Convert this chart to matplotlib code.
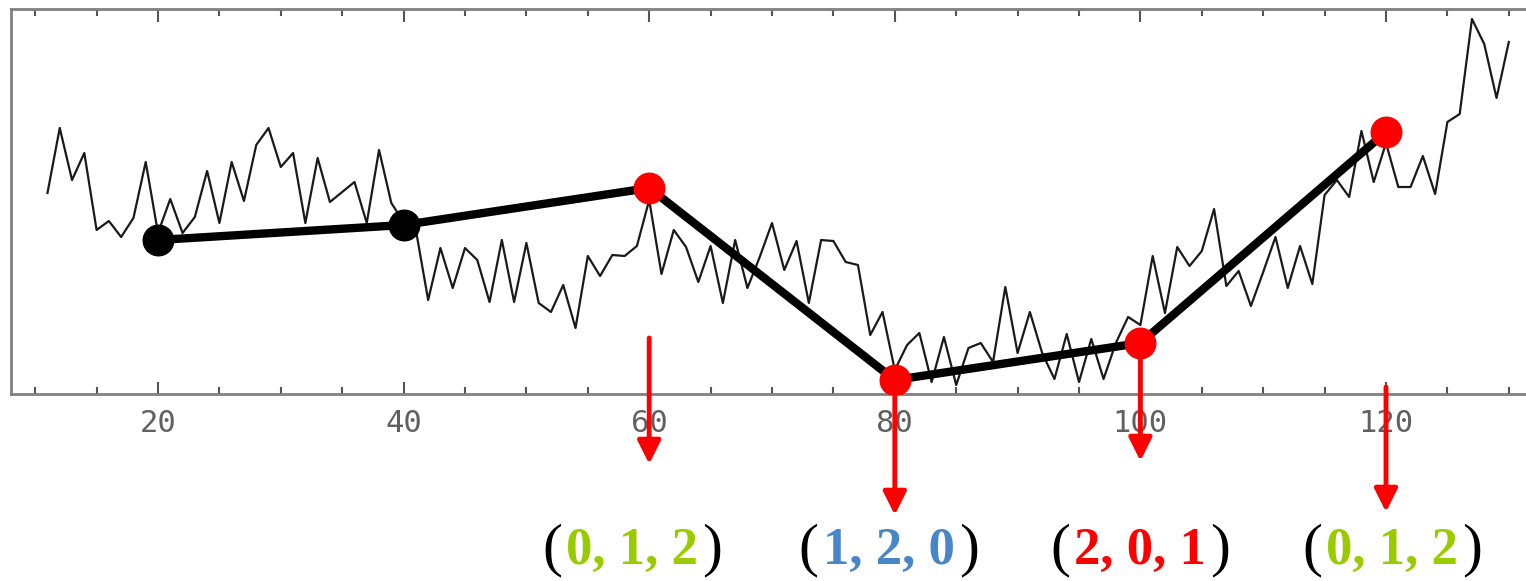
import matplotlib
matplotlib.use("Agg")
import matplotlib.pyplot as plt
from matplotlib.ticker import MultipleLocator
from matplotlib.transforms import ScaledTranslation

# noisy series, x = 11 .. 130
xs = list(range(11, 131))
ys = [201, 266, 214, 241, 164, 173, 157, 176, 232, 161,
      195, 161, 177, 223, 171, 232, 193, 249, 266, 227,
      241, 171, 236, 192, 202, 212, 171, 244, 191, 172,
      164, 94, 146, 106, 146, 134, 92, 154, 92, 151,
      91, 82, 109, 66, 138, 118, 139, 138, 148, 194,
      120, 164, 147, 112, 148, 91, 154, 106, 137, 171,
      124, 153, 91, 154, 153, 132, 129, 59, 82, 24,
      49, 61, 12, 57, 9, 46, 51, 32, 107, 41,
      82, 41, 15, 60, 12, 55, 15, 51, 77, 69,
      138, 81, 147, 128, 143, 185, 108, 123, 88, 122,
      157, 106, 148, 110, 199, 214, 197, 263, 212, 251,
      207, 207, 238, 200, 272, 280, 375, 350, 296, 352]

# thick polyline through chosen points
kx = [20, 40, 60, 80, 100, 120]
ky = [154, 169, 206, 14, 51, 262]
kcol = ['black', 'black', 'red', 'red', 'red', 'red']

# arrows below the red points
ax_x = [60, 80, 100, 120]
ax_start = [56, 14, 51, 7]
ax_end = [-70, -121, -67, -118]

# permutation labels
lab_x = [58.6, 79.5, 100.0, 120.5]
lab_txt = ['0, 1, 2', '1, 2, 0', '2, 0, 1', '0, 1, 2']
lab_col = ['#99cc00', '#4787c7', '#ff0000', '#99cc00']

W, H = 1526, 581
fig = plt.figure(figsize=(W / 100, H / 100), dpi=100)
ax = fig.add_axes([11 / W, 1 - 394 / H, (W - 11) / W, 385 / H])

ax.plot(xs, ys, color='#1a1a1a', lw=1.6, zorder=2)
ax.plot(kx, ky, color='black', lw=6, zorder=3, solid_capstyle='round')
for x, y, c in zip(kx, ky, kcol):
    ax.plot(x, y, 'o', color=c, ms=22, mec=c, zorder=5)

for x, y0, y1 in zip(ax_x, ax_start, ax_end):
    ax.annotate('', xy=(x, y1), xytext=(x, y0), annotation_clip=False,
                arrowprops=dict(arrowstyle='-|>,head_length=0.7,head_width=0.35',
                                mutation_scale=20, color='red', lw=3.5,
                                shrinkA=0, shrinkB=0), zorder=4)

ax.set_xlim(8.03, 131.4)
ax.set_ylim(0, 385)
ax.xaxis.set_minor_locator(MultipleLocator(5))
ax.set_xticks([20, 40, 60, 80, 100, 120])
ax.set_yticks([])
ax.tick_params(axis='x', which='both', direction='in', top=True, bottom=True,
               colors='#555555', width=1.5)
ax.tick_params(axis='x', which='major', length=9, pad=11,
               labelsize=22, labelcolor='#606060')
ax.tick_params(axis='x', which='minor', length=5)
for t in ax.get_xticklabels():
    t.set_fontfamily('DejaVu Sans Mono')
for s in ['left', 'top', 'bottom']:
    ax.spines[s].set_color('#808080')
    ax.spines[s].set_linewidth(2)
ax.spines['right'].set_visible(False)

# labels: black parentheses, coloured bold digits
fig.canvas.draw()
rend = fig.canvas.get_renderer()
fs = 38
parts_fs = [43, fs, 43]
for cx, txt, col in zip(lab_x, lab_txt, lab_col):
    parts = [('(', 'black', 'normal'), (txt, col, 'bold'), (')', 'black', 'normal')]
    widths = []
    for (s, c, w), f in zip(parts, parts_fs):
        t = fig.text(0, 0, s, fontsize=f, family='Liberation Serif', weight=w)
        widths.append(t.get_window_extent(rend).width)
        t.remove()
    total = sum(widths) + 8
    off = -total / 2
    for (s, c, w), wd, f in zip(parts, widths, parts_fs):
        tr = ax.transData + ScaledTranslation(off / 100, 0, fig.dpi_scale_trans)
        ax.text(cx, -170, s, transform=tr, fontsize=f, family='Liberation Serif',
                weight=w, color=c, ha='left', va='baseline', clip_on=False)
        off += wd + 4

fig.savefig('out.png', dpi=100)
